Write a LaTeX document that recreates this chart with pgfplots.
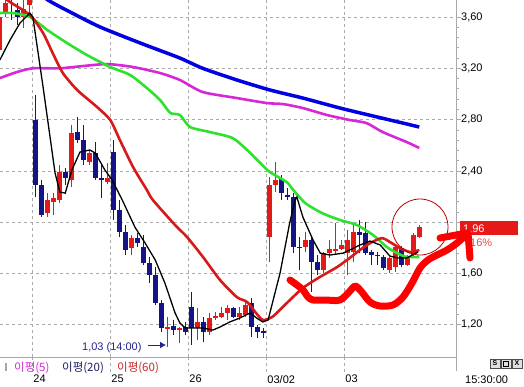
\documentclass[border=0pt]{standalone}
\usepackage{fontspec}
\setmainfont{Liberation Sans}
\newfontfamily\kr{Noto Sans CJK KR}
\usepackage{pgfplots}
\pgfplotsset{compat=1.18}
\usepackage{pgfplotstable}
\usetikzlibrary{arrows.meta}
\definecolor{cup}{RGB}{230,25,25}
\definecolor{cdn}{RGB}{20,20,135}
\definecolor{maB}{RGB}{0,0,225}
\definecolor{maM}{RGB}{215,40,215}
\definecolor{maG}{RGB}{45,225,45}
\definecolor{maR}{RGB}{215,25,25}
\definecolor{gridc}{RGB}{170,170,170}
\definecolor{annb}{RGB}{35,35,150}
\definecolor{legN}{RGB}{30,30,100}
\definecolor{legR}{RGB}{200,40,40}

% red (rising) candles: index, open, high, low, close
\pgfplotstableread{
i o h l c
-6 3.343 3.639 3.304 3.600
-5 3.631 3.750 3.600 3.709
-2 3.600 3.740 3.514 3.662
-1 3.694 3.780 3.639 3.760
2 2.071 2.227 2.040 2.173
3 2.157 2.227 2.056 2.188
4 2.173 2.446 2.149 2.391
6 2.329 2.758 2.274 2.695
9 2.469 2.563 2.446 2.539
12 2.313 2.461 2.300 2.344
16 1.798 1.900 1.744 1.876
22 1.170 1.261 1.030 1.185
24 1.159 1.183 1.058 1.175
27 1.175 1.331 1.081 1.222
29 1.144 1.292 1.120 1.253
30 1.250 1.300 1.237 1.265
31 1.261 1.338 1.253 1.292
32 1.292 1.354 1.237 1.331
34 1.261 1.338 1.237 1.292
35 1.276 1.393 1.261 1.354
39 1.884 2.352 1.690 2.290
40 2.290 2.469 2.235 2.329
45 1.806 1.923 1.767 1.861
48 1.627 1.767 1.604 1.759
49 1.759 1.861 1.721 1.790
50 1.775 1.993 1.744 1.790
51 1.790 1.861 1.783 1.822
52 1.759 1.939 1.588 1.861
53 1.767 1.993 1.690 1.923
59 1.627 1.729 1.604 1.721
60 1.650 1.822 1.611 1.806
62 1.666 1.744 1.658 1.729
63 1.744 1.915 1.729 1.900
64 1.884 1.978 1.876 1.960
}\up

% blue (falling) candles
\pgfplotstableread{
i o h l c
-4 3.640 3.750 3.577 3.630
-3 3.655 3.709 3.538 3.600
0 2.797 2.992 2.196 2.290
1 2.290 2.329 2.040 2.056
5 2.391 2.422 2.290 2.344
7 2.703 2.820 2.617 2.641
8 2.641 2.758 2.446 2.485
10 2.539 2.625 2.329 2.344
11 2.344 2.461 2.188 2.329
13 2.547 2.641 2.017 2.095
14 2.095 2.173 1.884 1.923
15 1.923 1.978 1.744 1.783
17 1.876 1.915 1.806 1.837
18 1.806 1.900 1.666 1.682
19 1.682 1.729 1.525 1.588
20 1.588 1.650 1.354 1.369
21 1.369 1.393 1.144 1.175
23 1.190 1.237 1.120 1.159
25 1.183 1.222 1.120 1.144
26 1.338 1.455 1.042 1.175
28 1.222 1.261 1.066 1.144
33 1.331 1.338 1.253 1.261
36 1.369 1.408 1.105 1.183
37 1.183 1.198 1.097 1.144
38 1.148 1.175 1.097 1.140
41 2.336 2.368 2.173 2.227
42 2.212 2.266 2.173 2.196
43 2.196 2.227 1.759 1.806
44 1.810 1.884 1.627 1.800
46 1.861 1.884 1.455 1.690
47 1.690 1.744 1.588 1.627
54 1.923 2.017 1.759 1.900
55 1.915 2.001 1.744 1.759
56 1.767 1.783 1.666 1.744
57 1.745 1.767 1.666 1.735
58 1.729 1.744 1.627 1.643
61 1.798 1.814 1.650 1.666
}\dn

\begin{document}
\begin{tikzpicture}[x=1pt,y=1pt]
\useasboundingbox (0pt,0pt) rectangle (524pt,386pt);
\begin{axis}[
  at={(0pt,386pt)}, anchor=north west,
  scale only axis, width=456pt, height=357pt,
  xmin=-5.88, xmax=70.12, ymin=0.949, ymax=3.7326,
  axis x line*=bottom, axis y line*=right,
  axis line style={gridc, line width=0.8pt},
  ytick={1.2,1.6,2.0,2.4,2.8,3.2,3.6},
  yticklabels={{1,20},{1,60},{},{2,40},{2,80},{3,20},{3,60}},
  minor y tick num=4,
  ytick pos=right, yticklabel pos=right,
  tick align=outside,
  major tick length=5pt, minor tick length=2.5pt,
  tick style={gridc, line width=0.7pt},
  xtick={-0.5,12.5,25.5,38.5,51.5},
  xticklabels={24,25,26,03/02,03},
  xtick style={/pgfplots/major tick length=0pt},
  xmajorgrids, ymajorgrids,
  major grid style={gridc, dash pattern=on 3pt off 3pt, line width=0.7pt},
  yticklabel style={anchor=west, inner sep=0pt, font=\fontsize{11}{13}\selectfont},
  xticklabel style={anchor=north west, inner sep=0pt, xshift=1pt, yshift=-13pt, font=\fontsize{11}{13}\selectfont},
]
% wicks and bodies
\addplot[cup, line width=1pt, quiver={u=0, v=\thisrow{h}-\thisrow{l}}] table[x=i,y=l]{\up};
\addplot[cdn, line width=1pt, quiver={u=0, v=\thisrow{h}-\thisrow{l}}] table[x=i,y=l]{\dn};
\addplot[cup, line width=5pt, quiver={u=0, v=\thisrow{c}-\thisrow{o}}] table[x=i,y=o]{\up};
\addplot[cdn, line width=5pt, quiver={u=0, v=\thisrow{c}-\thisrow{o}}] table[x=i,y=o]{\dn};
% moving averages
\addplot[maB, line width=3.5pt, smooth, tension=0.4] coordinates {
(-1,3.85) (2.1,3.733) (5.8,3.639) (10.8,3.522) (17.5,3.397) (24.1,3.28) (27.9,3.20) (33.6,3.109) (39.1,3.031) (44.6,2.968) (50.8,2.89) (56.3,2.828) (61.9,2.766) (64,2.742)};
\addplot[maM, line width=2.6pt, smooth, tension=0.4] coordinates {
(-5.9,3.124) (-3.05,3.171) (-0.4,3.20) (4.1,3.20) (8.0,3.218) (12.0,3.233) (16.3,3.21) (20.8,3.163) (24.1,3.109) (27.9,3.015) (33.6,2.968) (38.6,2.929) (41.3,2.921) (44.6,2.89) (48.6,2.836) (52.4,2.797) (55.2,2.773) (57.9,2.703) (61.9,2.625) (64,2.579)};
\addplot[maG, line width=2.6pt, smooth, tension=0.4] coordinates {
(-5.9,3.631) (-3.7,3.631) (-0.9,3.60) (2.0,3.499) (5.3,3.397) (8.6,3.304) (12.5,3.21) (15.8,3.148) (18.6,3.046) (20.8,2.953) (22.5,2.852) (24.1,2.836) (25.8,2.742) (29.1,2.703) (32.9,2.656) (35.3,2.563) (37.5,2.461) (39.1,2.391) (41.9,2.313) (43,2.251) (45,2.149) (47.8,2.071) (50.8,2.017) (53.6,1.978) (56.3,1.90) (58.6,1.806) (60.3,1.759) (61.9,1.729) (64,1.729)};
\addplot[maR, line width=2.6pt, smooth, tension=0.4] coordinates {
(-5.9,3.82) (-4.7,3.733) (-0.9,3.616) (1.3,3.475) (2.9,3.319) (4.6,3.163) (7.0,3.03) (10.3,2.898) (12.5,2.797) (14.1,2.641) (16.3,2.43) (18.6,2.251) (19.6,2.173) (23.3,1.978) (25.3,1.884) (27.95,1.729) (30.8,1.549) (33.6,1.416) (35.3,1.378) (37.0,1.28) (38.0,1.237) (39.6,1.265) (41.9,1.369) (44.6,1.487) (47.4,1.572) (50.3,1.65) (52.4,1.721) (54.1,1.783) (55.8,1.837) (57.8,1.876) (59.4,1.837) (60.8,1.798) (62.5,1.767) (64,1.783)};
\addplot[black, line width=1.3pt] coordinates {
(-5.9,3.265) (-4.2,3.421) (-2.55,3.553) (-0.9,3.631) (-0.4,3.60) (1.3,3.054) (3.3,2.383) (4.1,2.235) (5.0,2.227) (6.1,2.407) (7.45,2.547) (9.1,2.563) (10.0,2.539) (11.6,2.407) (12.8,2.329) (14.5,2.173) (16.6,1.962) (18.3,1.838) (20.0,1.705) (21.6,1.526) (23.3,1.292) (24.1,1.214) (25.0,1.175) (26.3,1.175) (27.95,1.175) (29.6,1.159) (30.8,1.183) (32.4,1.222) (34.1,1.253) (35.8,1.292) (36.9,1.253) (37.9,1.222) (38.8,1.237) (40.8,1.604) (42.4,1.994) (43.3,2.173) (43.6,2.196) (44.6,2.04) (46.3,1.861) (47.5,1.759) (49.1,1.744) (51.3,1.759) (52.4,1.783) (54.1,1.822) (55.8,1.853) (57.5,1.822) (59.1,1.736) (60.4,1.721) (61.9,1.721) (63.8,1.767)};
\end{axis}
% extensions of frame into the legend strip
\foreach \xx in {32.3,110.3,188.3,266.3,344.3}
  \draw[gridc, dash pattern=on 3pt off 3pt, line width=0.7pt] (\xx,29) -- (\xx,14);
\draw[gridc, line width=0.8pt] (456,29) -- (456,15);
% legend strip
\fill[gray!70] (4.5,15) rectangle (7,23);
\node[anchor=west, inner sep=0pt, text=maM, font=\kr\fontsize{11.5}{13}\selectfont] at (14,18.5) {이평(5)};
\node[anchor=west, inner sep=0pt, text=legN, font=\kr\fontsize{11.5}{13}\selectfont] at (62,18.5) {이평(20)};
\node[anchor=west, inner sep=0pt, text=legR, font=\kr\fontsize{11.5}{13}\selectfont] at (117,18.5) {이평(60)};
\node[anchor=base west, inner sep=0pt, font=\fontsize{11}{13}\selectfont] at (465,3) {15:30:00};
% window buttons
\foreach \bx/\bt in {490/S,501/,512/X}{
  \draw[gray!60!black, fill=gray!25, line width=0.5pt] (\bx,18) rectangle ++(10,9);
  \node[inner sep=0pt, font=\bfseries\fontsize{7}{8}\selectfont] at (\bx+5,22.5) {\bt};
}
\draw[black, line width=0.8pt] (503.5,20) rectangle (508.5,25);
% low annotation
\node[anchor=base west, inner sep=0pt, text=annb, font=\fontsize{11}{13}\selectfont] at (82,36) {1,03 (14:00)};
\draw[annb, line width=1pt, -{Latex[length=6pt,width=7pt]}] (148,41) -- (166,41);
% current price marker
\fill[cup] (460,151) rectangle (518,165);
\node[anchor=base west, inner sep=0pt, text=white, font=\fontsize{11}{13}\selectfont] at (463,153.5) {1,96};
\node[anchor=base west, inner sep=0pt, text=cup!80, font=\fontsize{11}{13}\selectfont] at (470,140) {16\%};
% hand-drawn marks
\draw[red!75!black, line width=0.8pt] (420,159) circle (28);
\draw[red, line width=7pt, line cap=round, line join=round, smooth, tension=0.5] plot coordinates {
(290,106) (297,101) (303,96) (308,89) (313,86) (325,86) (340,86) (350,95) (355,100) (361,95) (370,84) (380,80) (393,81) (403,89) (412,103) (420,118) (428,126) (437,131) (447,136) (457,143) (467,152)};
\draw[red, line width=7pt, line cap=round] (440,148) -- (467,153);
\draw[red, line width=7pt, line cap=round] (468,153) -- (470,128);
\end{tikzpicture}
\end{document}
